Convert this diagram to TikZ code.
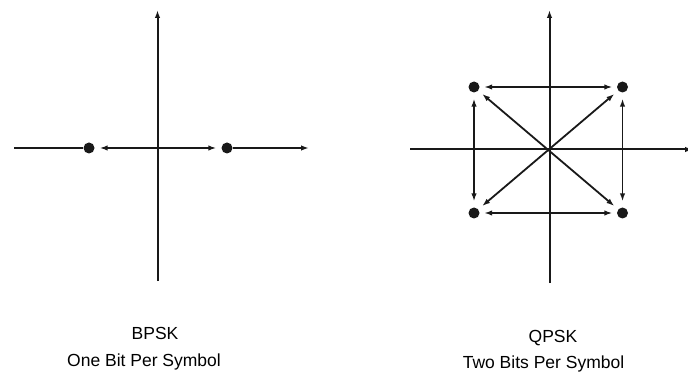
\documentclass[tikz,border=0pt]{standalone}
\usepackage{fontspec}
\setmainfont{Liberation Sans}
\usetikzlibrary{arrows.meta}
\begin{document}
\begin{tikzpicture}[x=1pt,y=-1pt,
  axis/.style={line width=2pt,black!90},
  vec/.style={line width=1.8pt,black!90},
  tip/.style={-{Latex[length=8pt,width=5.5pt]}},
  tips/.style={{Latex[length=8pt,width=5.5pt]}-{Latex[length=8pt,width=5.5pt]}},
  dot/.style={circle,fill=black!90,inner sep=0pt,minimum size=11pt},
  lbl/.style={font=\fontsize{17.5}{20}\selectfont,anchor=base,inner sep=0pt}]
\useasboundingbox (0,0) rectangle (688,374);
% ---------- BPSK ----------
\coordinate (bo) at (157.5,148);
\coordinate (bl) at (14,148);
\coordinate (br) at (309,148);
\coordinate (bt) at (157.5,10);
\coordinate (bb) at (157.5,281);
\node[dot] (b1) at (89,148) {};
\node[dot] (b2) at (227,148) {};
\draw[axis,tip] (bb) -- (bt);
\draw[axis] (bl) -- (b1);
\draw[axis,tip] (b2) -- (br);
\draw[vec,tips,shorten <=5pt,shorten >=5pt] (b1) -- (b2);
% ---------- QPSK ----------
\coordinate (qo) at (549,149.5);
\coordinate (ql) at (410,149.5);
\coordinate (qr) at (693,149.5);
\coordinate (qt) at (549.5,10);
\coordinate (qb) at (549.5,283);
\draw[axis,tip] (qb) -- (qt);
\draw[axis,tip] (ql) -- (qr);
\node[dot] (q1) at (474,87) {};
\node[dot] (q2) at (622.5,87) {};
\node[dot] (q3) at (474,213) {};
\node[dot] (q4) at (622.5,213) {};
\draw[vec,tips,shorten <=4.5pt,shorten >=4.5pt] (q1) -- (q2);
\draw[vec,tips,shorten <=4.5pt,shorten >=4.5pt] (q3) -- (q4);
\draw[vec,tips,shorten <=6pt,shorten >=6pt] (q1) -- (q3);
\draw[vec,tips,shorten <=6pt,shorten >=6pt] (q2) -- (q4);
\draw[vec,tips,shorten <=5pt,shorten >=5pt] (q1) -- (q4);
\draw[vec,tips,shorten <=5pt,shorten >=5pt] (q2) -- (q3);
% ---------- labels ----------
\node[lbl] (t1) at (155,339) {BPSK};
\node[lbl] (t2) at (144,366) {One Bit Per Symbol};
\node[lbl] (t3) at (553,342) {QPSK};
\node[lbl] (t4) at (543.5,368) {Two Bits Per Symbol};
\end{tikzpicture}
\end{document}
